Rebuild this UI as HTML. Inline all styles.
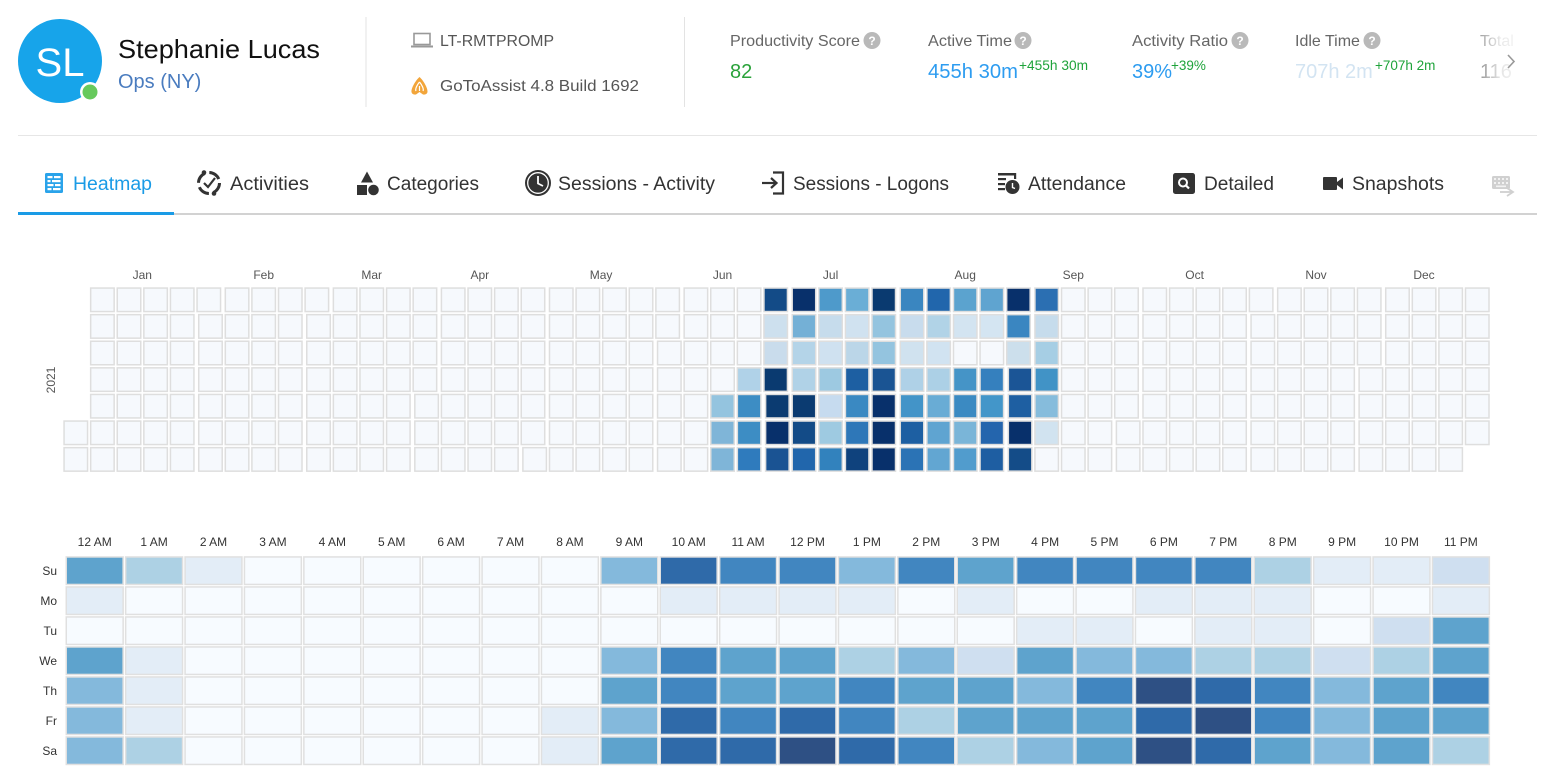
<!DOCTYPE html>
<html><head><meta charset="utf-8">
<style>
html,body{margin:0;padding:0;background:#fff;}
body{width:1555px;height:783px;overflow:hidden;position:relative;}
svg{display:block;font-family:"Liberation Sans",Arial,sans-serif;}
</style></head>
<body>
<svg id="s" width="1555" height="783" viewBox="0 0 1555 783" xmlns="http://www.w3.org/2000/svg">
<defs>
<linearGradient id="fade" x1="0" x2="1" y1="0" y2="0">
<stop offset="0" stop-color="#fff" stop-opacity="0"/>
<stop offset="0.55" stop-color="#fff" stop-opacity="0.85"/>
<stop offset="1" stop-color="#fff" stop-opacity="1"/>
</linearGradient>
</defs>
<rect width="1555" height="783" fill="#fff"/>

<!-- Avatar -->
<circle cx="60" cy="61" r="42" fill="#17a4ea"/>
<text x="60" y="76" font-size="40" fill="#fff" text-anchor="middle">SL</text>
<circle cx="90" cy="92" r="10" fill="#fff"/>
<circle cx="90" cy="92" r="7.5" fill="#66c95c"/>
<text x="118" y="58" font-size="26" fill="#111" textLength="202" lengthAdjust="spacingAndGlyphs">Stephanie Lucas</text>
<text x="118" y="88" font-size="20" fill="#4a7cbf">Ops (NY)</text>

<line x1="366" y1="17" x2="366" y2="107" stroke="#e3e3e3" stroke-width="1"/>
<line x1="684.5" y1="17" x2="684.5" y2="107" stroke="#e3e3e3" stroke-width="1"/>

<!-- laptop icon -->
<rect x="414" y="33.5" width="16" height="11" fill="none" stroke="#999" stroke-width="1.6"/>
<rect x="411" y="45.5" width="22" height="2" fill="#999"/>
<text x="440" y="46" font-size="16" fill="#555" textLength="114" lengthAdjust="spacingAndGlyphs">LT-RMTPROMP</text>
<!-- gotoassist icon -->
<path d="M419.5 77 C 416 80, 411 88, 411.5 92 Q 412 95 416 94.5 L 419.5 92 L 423 94.5 Q 427 95 427.5 92 C 428 88, 423 80, 419.5 77 Z" fill="#f2a53a"/>
<path d="M419.5 82 C 417 85, 415 89, 416 91 M419.5 82 C 422 85, 424 89, 423 91 M419.5 86 L 419.5 91" stroke="#fff" stroke-width="1.2" fill="none"/>
<text x="440" y="91" font-size="16" fill="#555" textLength="199" lengthAdjust="spacingAndGlyphs">GoToAssist 4.8 Build 1692</text>

<!-- Stats -->
<text x="730" y="46" font-size="16" fill="#666" textLength="130" lengthAdjust="spacingAndGlyphs">Productivity Score</text>
<circle cx="872" cy="40.5" r="8.5" fill="#b9b9b9"/><text x="872" y="45" font-size="12" font-weight="bold" fill="#fff" text-anchor="middle">?</text>
<text x="730" y="78" font-size="20" fill="#2aa23a">82</text>

<text x="928" y="46" font-size="16" fill="#666" textLength="84" lengthAdjust="spacingAndGlyphs">Active Time</text>
<circle cx="1023" cy="40.5" r="8.5" fill="#b9b9b9"/><text x="1023" y="45" font-size="12" font-weight="bold" fill="#fff" text-anchor="middle">?</text>
<text x="928" y="78" font-size="20" fill="#2d9cf0" textLength="90" lengthAdjust="spacingAndGlyphs">455h 30m</text>
<text x="1019" y="70" font-size="13.5" fill="#1ea33a" textLength="69" lengthAdjust="spacingAndGlyphs">+455h 30m</text>

<text x="1132" y="46" font-size="16" fill="#666" textLength="96" lengthAdjust="spacingAndGlyphs">Activity Ratio</text>
<circle cx="1240" cy="40.5" r="8.5" fill="#b9b9b9"/><text x="1240" y="45" font-size="12" font-weight="bold" fill="#fff" text-anchor="middle">?</text>
<text x="1132" y="78" font-size="20" fill="#2d9cf0">39%</text>
<text x="1171" y="70" font-size="13.5" fill="#1ea33a">+39%</text>

<text x="1295" y="46" font-size="16" fill="#666">Idle Time</text>
<circle cx="1372" cy="40.5" r="8.5" fill="#b9b9b9"/><text x="1372" y="45" font-size="12" font-weight="bold" fill="#fff" text-anchor="middle">?</text>
<text x="1295" y="78" font-size="20" fill="#d3e4f2">707h 2m</text>
<text x="1375" y="70" font-size="13.5" fill="#1ea33a">+707h 2m</text>

<text x="1480" y="46" font-size="16" fill="#666">Total</text>
<text x="1480" y="78" font-size="20" fill="#555">116</text>
<rect x="1462" y="20" width="70" height="80" fill="url(#fade)"/>
<polyline points="1508,55 1514,61.5 1508,68" fill="none" stroke="#999" stroke-width="1.6"/>

<line x1="18" y1="135.5" x2="1537" y2="135.5" stroke="#e6e6e6" stroke-width="1"/>

<!-- Tabs -->
<g>
<rect x="45" y="173" width="18" height="20" rx="1.5" fill="#2aa3ea"/>
<g fill="#fff">
<rect x="47.5" y="176" width="5" height="2.2"/><rect x="54" y="176" width="6.5" height="2.2"/>
<rect x="47.5" y="180" width="3" height="2.2"/><rect x="52" y="180" width="8.5" height="2.2"/>
<rect x="47.5" y="184" width="6" height="2.2"/><rect x="55" y="184" width="5.5" height="2.2"/>
<rect x="47.5" y="188" width="4" height="2.2"/><rect x="53" y="188" width="7.5" height="2.2"/>
</g>
</g>
<text x="73" y="190" font-size="19" fill="#1a9be6" textLength="79" lengthAdjust="spacingAndGlyphs">Heatmap</text>

<circle cx="209" cy="183" r="10.5" fill="none" stroke="#333" stroke-width="3" stroke-dasharray="12 4.5"/>
<circle cx="204" cy="172.5" r="2.3" fill="#333"/><circle cx="214" cy="193.5" r="2.3" fill="#333"/>
<polyline points="204,183 208,187 215,178" fill="none" stroke="#333" stroke-width="2.2"/>
<text x="230" y="190" font-size="19" fill="#333" textLength="79" lengthAdjust="spacingAndGlyphs">Activities</text>

<polygon points="367,171.5 361,182.5 373,182.5" fill="#333"/>
<rect x="357" y="185" width="10" height="10" fill="#333"/>
<circle cx="373.5" cy="190" r="5.3" fill="#333"/>
<text x="387" y="190" font-size="19" fill="#333" textLength="92" lengthAdjust="spacingAndGlyphs">Categories</text>

<circle cx="538" cy="183" r="13" fill="#333"/>
<circle cx="538" cy="183" r="10.3" fill="none" stroke="#fff" stroke-width="1.3"/>
<polyline points="538,176 538,183.5 543,186" fill="none" stroke="#fff" stroke-width="1.8"/>
<text x="558" y="190" font-size="19" fill="#333" textLength="157" lengthAdjust="spacingAndGlyphs">Sessions - Activity</text>

<path d="M773 172.5 H783 V193.5 H773" fill="none" stroke="#333" stroke-width="2.2"/>
<line x1="762" y1="183" x2="776" y2="183" stroke="#333" stroke-width="2.2"/>
<polyline points="771,178 776.5,183 771,188" fill="none" stroke="#333" stroke-width="2.2"/>
<text x="793" y="190" font-size="19" fill="#333" textLength="156" lengthAdjust="spacingAndGlyphs">Sessions - Logons</text>

<g fill="#333">
<rect x="998" y="173" width="18" height="2.5"/>
<rect x="998" y="178" width="8" height="2.2"/>
<rect x="998" y="183" width="7" height="2.2"/>
<rect x="998" y="188" width="7" height="2.2"/>
<rect x="1014" y="173" width="2.2" height="6"/>
<circle cx="1012.5" cy="187" r="7"/>
</g>
<polyline points="1012.5,183 1012.5,187.5 1015,188.5" fill="none" stroke="#fff" stroke-width="1.4"/>
<text x="1028" y="190" font-size="19" fill="#333" textLength="98" lengthAdjust="spacingAndGlyphs">Attendance</text>

<rect x="1173" y="173" width="22" height="21" rx="2.5" fill="#333"/>
<circle cx="1183" cy="182.5" r="4" fill="none" stroke="#fff" stroke-width="2"/>
<line x1="1186" y1="185.5" x2="1189" y2="188.5" stroke="#fff" stroke-width="2.2"/>
<text x="1204" y="190" font-size="19" fill="#333" textLength="70" lengthAdjust="spacingAndGlyphs">Detailed</text>

<rect x="1323" y="177" width="14" height="13" rx="1" fill="#333"/>
<polygon points="1337,182 1343,177.5 1343,189.5 1337,185" fill="#333"/>
<text x="1352" y="190" font-size="19" fill="#333" textLength="92" lengthAdjust="spacingAndGlyphs">Snapshots</text>

<rect x="1492" y="176" width="18" height="13" rx="1.5" fill="#d0d0d0"/>
<g fill="#f2f2f2"><rect x="1494" y="178" width="2" height="2"/><rect x="1498" y="178" width="2" height="2"/><rect x="1502" y="178" width="2" height="2"/><rect x="1506" y="178" width="2" height="2"/><rect x="1494" y="182" width="2" height="2"/><rect x="1498" y="182" width="2" height="2"/><rect x="1502" y="182" width="2" height="2"/><rect x="1506" y="182" width="2" height="2"/><rect x="1496" y="185.5" width="10" height="1.6"/></g>
<polyline points="1507,188 1513,192 1507,196" fill="none" stroke="#d0d0d0" stroke-width="1.8"/>
<line x1="1500" y1="192" x2="1513" y2="192" stroke="#d0d0d0" stroke-width="1.8"/>

<rect x="174" y="213" width="1363" height="2" fill="#d2d2d2"/>
<rect x="18" y="212" width="156" height="3" fill="#1a9be6"/>

<!-- Calendar labels -->
<g font-size="12" fill="#555" text-anchor="middle">
<text x="142.3" y="279">Jan</text>
<text x="263.7" y="279">Feb</text>
<text x="371.7" y="279">Mar</text>
<text x="479.8" y="279">Apr</text>
<text x="601.1" y="279">May</text>
<text x="722.5" y="279">Jun</text>
<text x="830.6" y="279">Jul</text>
<text x="965.2" y="279">Aug</text>
<text x="1073.3" y="279">Sep</text>
<text x="1194.6" y="279">Oct</text>
<text x="1316" y="279">Nov</text>
<text x="1424" y="279">Dec</text>
</g>
<text transform="translate(55,380) rotate(-90)" font-size="12" fill="#555" text-anchor="middle">2021</text>
<g id="cal"></g>

<!-- Hour heatmap labels -->
<g font-size="12" fill="#333" text-anchor="middle">
<text x="94.7" y="546">12 AM</text>
<text x="154.1" y="546">1 AM</text>
<text x="213.5" y="546">2 AM</text>
<text x="272.9" y="546">3 AM</text>
<text x="332.3" y="546">4 AM</text>
<text x="391.7" y="546">5 AM</text>
<text x="451.1" y="546">6 AM</text>
<text x="510.5" y="546">7 AM</text>
<text x="569.9" y="546">8 AM</text>
<text x="629.3" y="546">9 AM</text>
<text x="688.7" y="546">10 AM</text>
<text x="748.1" y="546">11 AM</text>
<text x="807.5" y="546">12 PM</text>
<text x="866.9" y="546">1 PM</text>
<text x="926.3" y="546">2 PM</text>
<text x="985.7" y="546">3 PM</text>
<text x="1045.1" y="546">4 PM</text>
<text x="1104.5" y="546">5 PM</text>
<text x="1163.9" y="546">6 PM</text>
<text x="1223.3" y="546">7 PM</text>
<text x="1282.7" y="546">8 PM</text>
<text x="1342.1" y="546">9 PM</text>
<text x="1401.5" y="546">10 PM</text>
<text x="1460.9" y="546">11 PM</text>
</g>
<g font-size="12" fill="#333" text-anchor="end">
<text x="57" y="575">Su</text>
<text x="57" y="605">Mo</text>
<text x="57" y="635">Tu</text>
<text x="57" y="665">We</text>
<text x="57" y="695">Th</text>
<text x="57" y="725">Fr</text>
<text x="57" y="755">Sa</text>
</g>
<g id="hrs"></g>
</svg>
<script>
(function(){
var NS="http://www.w3.org/2000/svg";
function R(g,x,y,w,h,f,sw,st){var r=document.createElementNS(NS,"rect");r.setAttribute("x",x);r.setAttribute("y",y);r.setAttribute("width",w);r.setAttribute("height",h);r.setAttribute("fill",f);r.setAttribute("stroke",st);r.setAttribute("stroke-width",sw);g.appendChild(r);}
var E="#f6f9fd";
var data={
24:[E,E,E,E,'#94c4df','#7fb5d8','#7fb5d8'],
25:[E,E,E,'#b0d2e8','#3d8dc4','#3d8dc4','#2f7bbd'],
26:['#134b87','#cde0ee','#c9dcec','#0a3a70','#0b3b71','#08306b','#1a5393'],
27:['#08306b','#74b0d6','#b4d4e8','#b0d2e7','#0b3b71','#134b87','#2166ac'],
28:['#4e9acb','#c6dcec','#cfe1f0','#9dc9e1','#c6dbef','#9ecae1','#3282bd'],
29:['#6aaed6','#d0e2f0','#bbd6e8','#1d5fa2','#3a89c2','#2e77b8','#0f427d'],
30:['#0a3a70','#94c4df','#94c4df','#1a5493','#08306b','#08306b','#08306b'],
31:['#3a86c0','#c8dced','#d0e2ef','#afd1e7','#4394c8','#1d5fa2','#2b73b5'],
32:['#2166ac','#b1d3e7','#d1e3f1','#acd0e6','#69acd5','#5fa4d1','#62a6d2'],
33:['#5ba3cf','#d3e4f1',E,'#4594c7','#3b8ac2','#7ab5d8','#519ccd'],
34:['#5fa4d0','#d4e5f2',E,'#3580be','#4396c9','#2465ad','#1e5ea2'],
35:['#08306b','#3a86c1','#ccdfec','#1b5596','#1e5fa2','#08306b','#144c88'],
36:['#2b6fb2','#c6dcec','#a6cee4','#4193c6','#86bcdc','#d1e3f0',E]
};
var starts=[0,31,59,90,120,151,181,212,243,273,304,334,365];
var g=document.getElementById("cal");
for(var d=0;d<365;d++){
  var m=0;while(d>=starts[m+1])m++;
  var col=Math.floor((d+5)/7),row=(d+5)%7;
  var x=63.3+col*26.6+m*1.66,y=287.3+row*26.6;
  var c=(data[col]&&data[col][row])||E;
  R(g,(x+0.75).toFixed(2),(y+0.75).toFixed(2),23.5,23.5,c,1.5,"#dedede");
}
var L=["#f7fbff","#e3edf7","#cfdff0","#add1e4","#84b9dc","#5ea3cd","#4186c0","#2f6aa9","#2e5084"];
var H=[
[5,3,1,0,0,0,0,0,0,4,7,6,6,4,6,5,6,6,6,6,3,1,1,2],
[1,0,0,0,0,0,0,0,0,0,1,1,1,1,0,1,0,0,1,1,1,0,0,1],
[0,0,0,0,0,0,0,0,0,0,0,0,0,0,0,0,1,1,0,1,1,0,2,5],
[5,1,0,0,0,0,0,0,0,4,6,5,5,3,4,2,5,4,4,3,3,2,3,5],
[4,1,0,0,0,0,0,0,0,5,6,5,5,6,5,5,4,6,8,7,6,4,5,6],
[4,1,0,0,0,0,0,0,1,4,7,6,7,6,3,5,5,5,7,8,6,4,5,5],
[4,3,0,0,0,0,0,0,1,5,7,7,8,7,6,3,4,5,8,7,5,4,5,3]
];
var h=document.getElementById("hrs");
for(var r=0;r<7;r++)for(var k=0;k<24;k++){
  var hx=65+k*59.4,hy=555.7+r*30;
  R(h,(hx+1.25).toFixed(2),(hy+1.25).toFixed(2),56.9,27.5,L[H[r][k]],1.5,"#e0e0e0");
}
})();
</script>
</body></html>
